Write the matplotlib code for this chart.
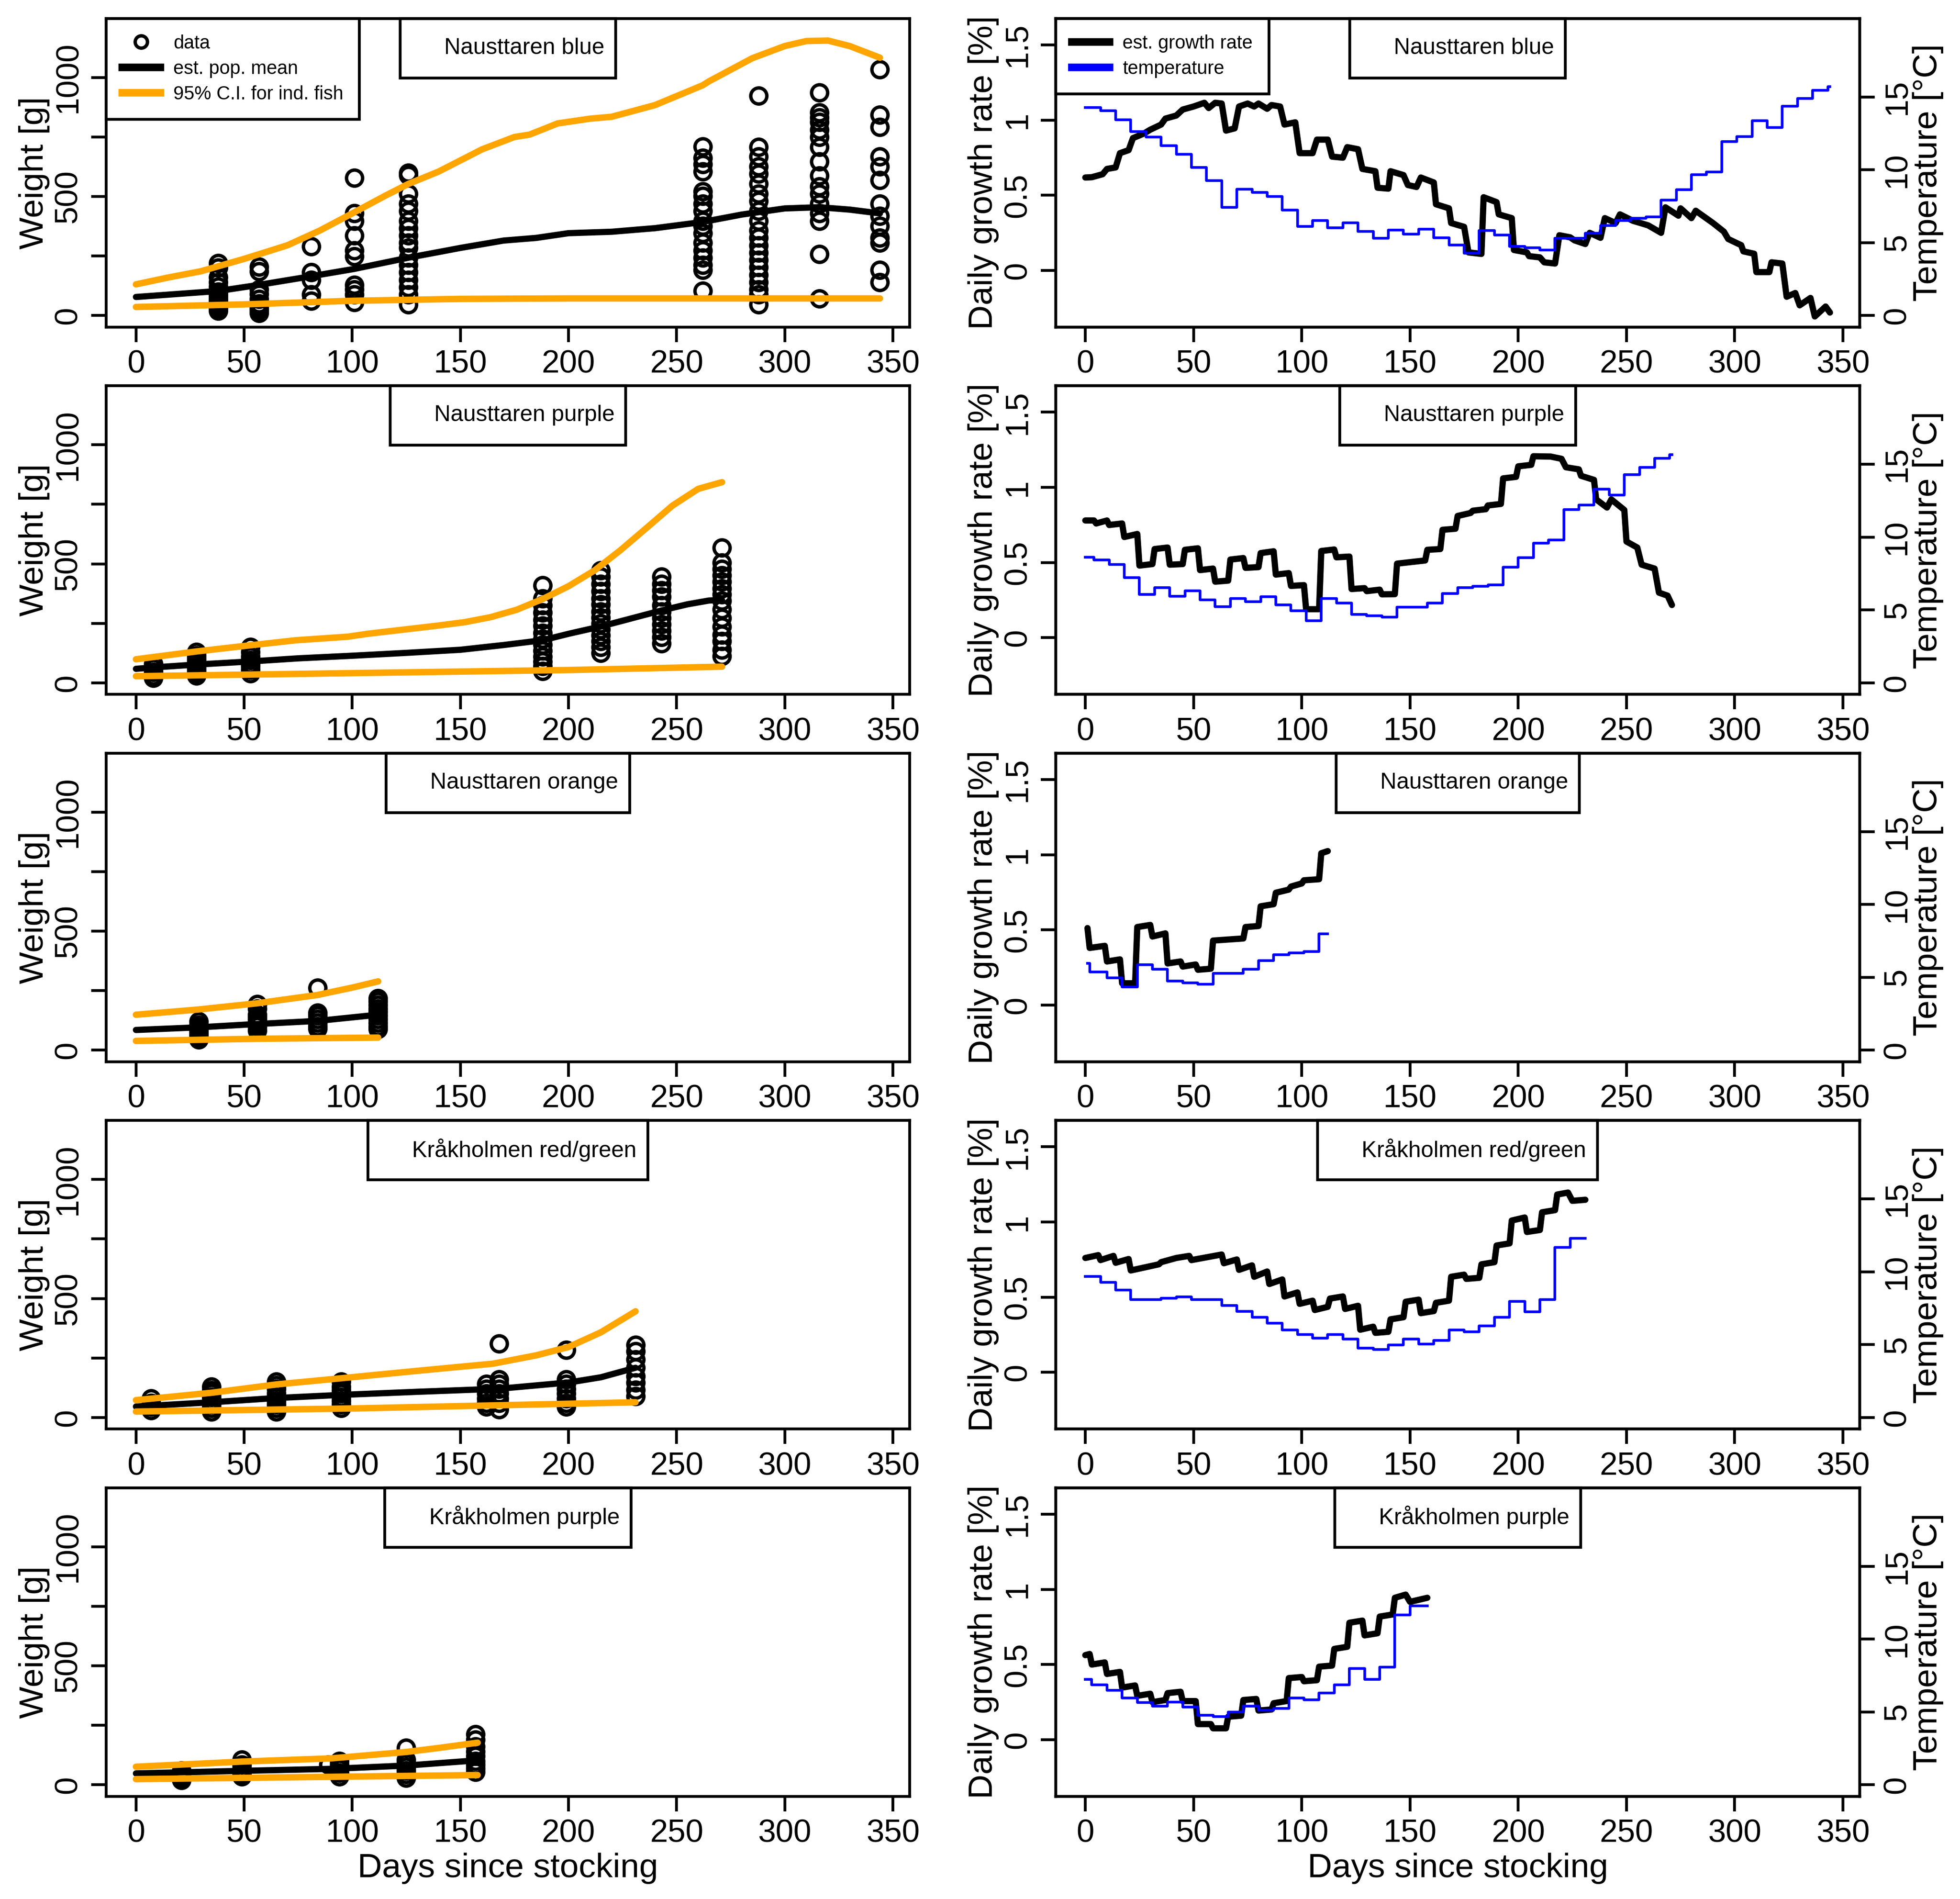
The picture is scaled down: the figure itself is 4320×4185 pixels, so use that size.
import numpy as np
import matplotlib.pyplot as plt
from matplotlib.lines import Line2D
from matplotlib.patches import Rectangle
import matplotlib.transforms as mtransforms

plt.rcParams['font.family'] = ['Liberation Sans', 'DejaVu Sans']

# ---------------- data ----------------
SITES = ['Nausttaren blue', 'Nausttaren purple', 'Nausttaren orange',
         'Kråkholmen red/green', 'Kråkholmen purple']

# weighings: sampling day -> weights [g]
NB_OBS_DAYS = [38, 57, 81, 101, 126, 262, 288, 316, 344]
NB_OBS_W = [[220, 200, 160, 140, 120, 100, 90, 80, 70, 60, 50, 40, 30, 20],
            [205, 185, 110, 90, 70, 50, 40, 30, 20, 10],
            [290, 181, 150, 88, 62],
            [579, 429, 398, 336, 274, 248, 129, 109, 88, 57],
            [600, 590, 512, 470, 440, 398, 367, 336, 305, 284, 243, 212, 181, 150, 119, 88, 47],
            [710, 662, 636, 605, 522, 502, 470, 440, 398, 377, 346, 305, 274, 243, 212, 191, 103],
            [923, 708, 667, 626, 595, 553, 512, 481, 440, 398, 357, 326, 295, 264, 233, 202, 171, 140, 109, 88, 47],
            [936, 853, 832, 812, 781, 750, 708, 646, 587, 543, 512, 470, 429, 398, 259, 72],
            [1034, 843, 791, 667, 626, 569, 470, 419, 377, 326, 305, 191, 140]]

NP_OBS_DAYS = [8, 28, 53, 188, 215, 243, 271]
NP_OBS_W = [[80, 60, 45, 30, 20],
            [130, 115, 100, 90, 80, 70, 60, 50, 40, 30],
            [150, 130, 110, 95, 80, 70, 55, 40],
            [410, 355, 325, 295, 265, 240, 210, 185, 160, 135, 110, 90, 70, 50],
            [473, 445, 415, 385, 355, 330, 300, 275, 250, 225, 200, 175, 150, 126],
            [446, 415, 388, 362, 326, 299, 273, 246, 219, 192, 166],
            [567, 504, 478, 451, 424, 397, 371, 344, 308, 273, 237, 201, 175, 139, 112]]

NO_OBS_DAYS = [29, 56, 84, 112]
NO_OBS_W = [[120, 105, 95, 85, 75, 65, 55, 45],
            [193, 175, 150, 140, 130, 120, 110, 100, 83],
            [261, 158, 145, 130, 115, 100, 90],
            [219, 205, 190, 175, 160, 145, 130, 115, 100, 88]]

KR_OBS_DAYS = [7, 35, 65, 95, 162, 168, 199, 231]
KR_OBS_W = [[80, 60, 45, 30],
            [130, 115, 100, 85, 70, 55, 40, 25],
            [150, 135, 120, 100, 85, 70, 55, 40, 25],
            [150, 130, 115, 100, 85, 70, 55, 40],
            [140, 120, 100, 80, 60, 45],
            [310, 160, 140, 120, 100, 80, 60, 35],
            [283, 160, 140, 120, 100, 80, 60, 45],
            [305, 279, 244, 209, 174, 147, 117, 90]]

KP_OBS_DAYS = [21, 49, 89, 94, 125, 157]
KP_OBS_W = [[60, 45, 35, 25, 20],
            [105, 85, 70, 55, 45, 35],
            [85],
            [100, 85, 75, 65, 50, 35],
            [155, 105, 90, 75, 60, 45, 30],
            [212, 190, 160, 140, 120, 100, 85, 70, 55]]

# estimated population mean and 95% C.I. for individual fish
NB_MEAN_D = [0, 38, 57, 81, 101, 126, 150, 170, 185, 200, 220, 240, 262, 280, 300, 316, 330, 344]
NB_MEAN = [78, 103, 129, 165, 196, 243, 284, 315, 326, 346, 352, 367, 393, 424, 450, 455, 445, 429]
NB_UP_D = [0, 15, 30, 50, 70, 85, 100, 115, 126, 140, 160, 175, 182, 195, 210, 220, 240, 262,
           265, 285, 300, 310, 320, 330, 344]
NB_UP = [131, 160, 186, 238, 295, 357, 429, 502, 553, 605, 698, 750, 760, 807, 827, 835, 884, 967,
         984, 1081, 1132, 1153, 1155, 1132, 1083]
NB_LO_D = [0, 50, 100, 150, 200, 344]
NB_LO = [36, 47, 62, 70, 72, 72]

NP_MEAN_D = [0, 10, 28, 53, 75, 100, 125, 150, 170, 188, 200, 215, 230, 243, 255, 265, 271]
NP_MEAN = [59, 66, 77, 90, 103, 114, 126, 139, 159, 179, 206, 237, 273, 304, 330, 346, 348]
NP_UP_D = [0, 28, 52, 74, 98, 107, 124, 140, 152, 164, 176, 188, 200, 212, 224, 236, 248, 260, 271]
NP_UP = [99, 132, 157, 179, 194, 206, 224, 241, 255, 276, 307, 352, 406, 472, 557, 650, 744, 815, 843]
NP_LO_D = [0, 100, 200, 271]
NP_LO = [28, 41, 54, 68]

NO_MEAN_D = [0, 29, 56, 84, 112]
NO_MEAN = [85, 96, 110, 123, 149]
NO_UP_D = [0, 29, 56, 84, 100, 112]
NO_UP = [149, 171, 197, 232, 263, 289]
NO_LO_D = [0, 56, 112]
NO_LO = [39, 48, 53]

KR_MEAN_D = [0, 35, 65, 95, 130, 168, 200, 215, 231]
KR_MEAN = [46, 64, 82, 95, 108, 121, 147, 169, 209]
KR_UP_D = [0, 35, 65, 95, 130, 165, 185, 200, 215, 231]
KR_UP = [73, 104, 139, 165, 196, 226, 261, 296, 358, 446]
KR_LO_D = [0, 100, 231]
KR_LO = [25, 38, 64]

KP_MEAN_D = [0, 50, 90, 125, 158]
KP_MEAN = [48, 59, 67, 81, 103]
KP_UP_D = [0, 50, 90, 125, 140, 158]
KP_UP = [76, 98, 111, 138, 155, 177]
KP_LO_D = [0, 158]
KP_LO = [24, 41]

# estimated daily growth rate [%] as (day, rate)
NB_GROWTH = [(0, 0.618), (3, 0.62), (8, 0.64), (10, 0.675), (14, 0.685), (16, 0.78), (20, 0.80),
             (22, 0.88), (27, 0.91), (30, 0.936), (35, 0.97), (37, 1.01), (42, 1.03), (45, 1.07),
             (50, 1.09), (55, 1.115), (57, 1.08), (60, 1.115), (63, 1.11), (65, 0.93), (69, 0.945),
             (71, 1.09), (75, 1.11), (78, 1.09), (80, 1.11), (84, 1.075), (86, 1.10), (90, 1.09),
             (92, 0.97), (97, 0.985), (99, 0.78), (105, 0.78), (107, 0.87), (112, 0.87), (114, 0.757),
             (119, 0.75), (121, 0.82), (126, 0.806), (128, 0.675), (134, 0.66), (135, 0.55),
             (140, 0.544), (141, 0.66), (147, 0.634), (149, 0.568), (153, 0.555), (155, 0.618),
             (161, 0.585), (162, 0.44), (168, 0.413), (169, 0.315), (175, 0.29), (177, 0.12),
             (183, 0.11), (184, 0.487), (190, 0.454), (191, 0.373), (197, 0.348), (198, 0.136),
             (204, 0.12), (205, 0.095), (210, 0.087), (212, 0.054), (217, 0.046), (219, 0.234),
             (224, 0.22), (226, 0.20), (231, 0.176), (233, 0.25), (238, 0.217), (240, 0.348),
             (245, 0.315), (247, 0.373), (253, 0.33), (260, 0.30), (266, 0.25), (268, 0.42),
             (274, 0.364), (275, 0.413), (280, 0.348), (282, 0.397), (290, 0.315), (295, 0.258),
             (297, 0.209), (303, 0.168), (304, 0.127), (309, 0.111), (310, -0.011), (316, -0.011),
             (317, 0.054), (322, 0.046), (324, -0.175), (328, -0.15), (330, -0.232), (335, -0.183),
             (337, -0.306), (342, -0.24), (344, -0.28)]

NP_GROWTH = [(0, 0.78), (4, 0.78), (5, 0.76), (10, 0.78), (11, 0.75), (17, 0.76), (18, 0.67),
             (24, 0.69), (25, 0.48), (31, 0.49), (32, 0.59), (38, 0.60), (39, 0.486), (45, 0.49),
             (46, 0.585), (52, 0.595), (53, 0.45), (59, 0.46), (60, 0.373), (66, 0.38), (67, 0.52),
             (73, 0.53), (74, 0.465), (80, 0.47), (81, 0.563), (87, 0.575), (88, 0.42), (94, 0.43),
             (95, 0.345), (101, 0.35), (102, 0.19), (108, 0.19), (109, 0.577), (115, 0.587),
             (116, 0.535), (122, 0.54), (123, 0.324), (129, 0.33), (130, 0.31), (136, 0.32),
             (137, 0.289), (143, 0.29), (144, 0.493), (157, 0.514), (158, 0.585), (164, 0.59),
             (165, 0.718), (171, 0.725), (172, 0.81), (178, 0.83), (179, 0.845), (185, 0.855),
             (186, 0.88), (192, 0.89), (193, 1.06), (199, 1.07), (200, 1.14), (206, 1.15),
             (207, 1.207), (215, 1.205), (220, 1.19), (222, 1.134), (228, 1.12), (229, 1.077),
             (235, 1.05), (236, 0.92), (241, 0.866), (243, 0.92), (249, 0.85), (250, 0.64),
             (255, 0.60), (257, 0.486), (263, 0.46), (265, 0.30), (269, 0.28), (271, 0.218)]

NO_GROWTH = [(1, 0.512), (2, 0.38), (9, 0.394), (10, 0.29), (16, 0.304), (17, 0.145), (23, 0.145),
             (24, 0.519), (30, 0.533), (31, 0.456), (37, 0.477), (38, 0.277), (44, 0.29), (45, 0.256),
             (51, 0.27), (52, 0.235), (58, 0.242), (59, 0.429), (73, 0.443), (74, 0.519), (80, 0.526),
             (81, 0.657), (87, 0.671), (88, 0.747), (94, 0.768), (95, 0.788), (100, 0.809),
             (101, 0.83), (108, 0.837), (109, 1.01), (112, 1.024)]

KR_GROWTH = [(0, 0.761), (6, 0.78), (7, 0.747), (13, 0.775), (14, 0.729), (20, 0.754), (21, 0.678),
             (34, 0.719), (35, 0.733), (42, 0.761), (48, 0.775), (49, 0.747), (63, 0.784),
             (64, 0.726), (70, 0.751), (71, 0.682), (77, 0.712), (78, 0.636), (84, 0.671),
             (85, 0.588), (91, 0.618), (92, 0.505), (98, 0.532), (99, 0.456), (105, 0.477),
             (106, 0.415), (112, 0.436), (113, 0.491), (119, 0.505), (120, 0.422), (126, 0.443),
             (127, 0.284), (133, 0.304), (134, 0.263), (140, 0.27), (141, 0.353), (147, 0.367),
             (148, 0.47), (154, 0.484), (155, 0.394), (161, 0.408), (162, 0.463), (168, 0.477),
             (169, 0.636), (175, 0.65), (176, 0.622), (182, 0.629), (183, 0.719), (189, 0.733),
             (190, 0.844), (196, 0.858), (197, 1.01), (203, 1.03), (204, 0.934), (210, 0.947),
             (211, 1.065), (217, 1.079), (218, 1.183), (223, 1.196), (225, 1.141), (231, 1.148)]

KP_GROWTH = [(0, 0.5625), (2, 0.57), (3, 0.50), (9, 0.514), (10, 0.4375), (16, 0.451), (17, 0.347),
             (23, 0.361), (24, 0.292), (30, 0.306), (31, 0.25), (37, 0.264), (38, 0.31), (44, 0.319),
             (45, 0.257), (51, 0.257), (52, 0.104), (58, 0.104), (59, 0.076), (65, 0.076),
             (66, 0.153), (72, 0.16), (73, 0.264), (79, 0.271), (80, 0.194), (86, 0.201),
             (87, 0.243), (93, 0.257), (94, 0.41), (100, 0.417), (101, 0.389), (107, 0.396),
             (108, 0.486), (114, 0.493), (115, 0.604), (121, 0.618), (122, 0.778), (128, 0.792),
             (129, 0.694), (135, 0.708), (136, 0.819), (142, 0.833), (143, 0.944), (148, 0.965),
             (150, 0.917), (158, 0.944)]

# weekly sea temperature [deg C]: step start day, value (last entry closes the series)
NB_TEMP_D = [0, 7, 14, 21, 28, 35, 42, 49, 56, 63, 70, 77, 84, 91, 98, 105, 112, 119, 126, 133,
             140, 147, 154, 161, 168, 175, 182, 189, 196, 203, 210, 217, 224, 231, 238, 245, 252,
             259, 266, 273, 280, 287, 294, 301, 308, 315, 322, 329, 336, 343, 344]
NB_TEMP = [14.26, 14.06, 13.43, 12.63, 12.24, 11.67, 11.06, 10.15, 9.26, 7.41, 8.67, 8.45, 8.16,
           7.24, 6.11, 6.53, 6.01, 6.35, 5.76, 5.30, 5.86, 5.59, 5.93, 5.34, 4.85, 4.29, 5.84, 5.52,
           4.75, 4.66, 4.49, 5.30, 5.30, 5.64, 6.18, 6.51, 6.68, 6.78, 7.91, 8.64, 9.65, 9.85, 11.95,
           12.29, 13.38, 12.91, 14.36, 14.90, 15.45, 15.71, 15.71]

NP_TEMP_D = [0, 4, 11, 18, 25, 32, 39, 46, 53, 60, 67, 74, 81, 88, 95, 102, 109, 116, 123, 130,
             137, 144, 151, 158, 165, 172, 179, 186, 193, 200, 207, 214, 221, 228, 235, 242, 249,
             256, 263, 270, 271]
NP_TEMP = [8.63, 8.44, 8.11, 7.22, 6.06, 6.52, 5.95, 6.32, 5.70, 5.22, 5.80, 5.56, 5.92, 5.34, 4.94,
           4.26, 5.80, 5.48, 4.69, 4.59, 4.50, 5.19, 5.19, 5.48, 6.13, 6.52, 6.64, 6.71, 7.94, 8.59,
           9.60, 9.81, 11.90, 12.19, 13.30, 12.87, 14.29, 14.79, 15.41, 15.66, 15.66]

NO_TEMP_D = [1, 2, 10, 17, 24, 31, 38, 45, 52, 59, 66, 73, 80, 87, 94, 101, 108, 112]
NO_TEMP = [5.95, 5.38, 4.95, 4.34, 5.85, 5.56, 4.74, 4.62, 4.52, 5.26, 5.26, 5.56, 6.16, 6.56,
           6.66, 6.76, 7.97, 7.97]

KR_TEMP_D = [0, 7, 14, 21, 28, 35, 42, 49, 56, 63, 70, 77, 84, 91, 98, 105, 112, 119, 126, 133,
             140, 147, 154, 161, 168, 175, 182, 189, 196, 203, 210, 217, 224, 231]
KR_TEMP = [9.69, 9.26, 8.76, 8.08, 8.08, 8.18, 8.29, 8.08, 8.08, 7.70, 7.27, 6.87, 6.47, 5.99, 5.69,
           5.45, 5.69, 5.38, 4.77, 4.67, 4.98, 5.38, 5.05, 5.28, 6.02, 5.87, 6.27, 6.87, 7.98, 7.25,
           8.08, 11.68, 12.28, 12.28]

KP_TEMP_D = [0, 3, 10, 17, 24, 31, 38, 45, 52, 59, 66, 73, 80, 87, 94, 101, 108, 115, 122, 129,
             136, 143, 150, 158]
KP_TEMP = [7.25, 6.87, 6.49, 5.97, 5.66, 5.41, 5.69, 5.35, 4.78, 4.67, 4.98, 5.41, 5.12, 5.23,
           5.97, 5.83, 6.30, 6.87, 7.98, 7.25, 8.08, 11.66, 12.28, 12.28]

PANELS = [
    (NB_OBS_DAYS, NB_OBS_W, NB_MEAN_D, NB_MEAN, NB_UP_D, NB_UP, NB_LO_D, NB_LO, NB_GROWTH, NB_TEMP_D, NB_TEMP),
    (NP_OBS_DAYS, NP_OBS_W, NP_MEAN_D, NP_MEAN, NP_UP_D, NP_UP, NP_LO_D, NP_LO, NP_GROWTH, NP_TEMP_D, NP_TEMP),
    (NO_OBS_DAYS, NO_OBS_W, NO_MEAN_D, NO_MEAN, NO_UP_D, NO_UP, NO_LO_D, NO_LO, NO_GROWTH, NO_TEMP_D, NO_TEMP),
    (KR_OBS_DAYS, KR_OBS_W, KR_MEAN_D, KR_MEAN, KR_UP_D, KR_UP, KR_LO_D, KR_LO, KR_GROWTH, KR_TEMP_D, KR_TEMP),
    (KP_OBS_DAYS, KP_OBS_W, KP_MEAN_D, KP_MEAN, KP_UP_D, KP_UP, KP_LO_D, KP_LO, KP_GROWTH, KP_TEMP_D, KP_TEMP),
]

X_TICKS = [0, 50, 100, 150, 200, 250, 300, 350]
W_TICKS = [0, 250, 500, 750, 1000]
W_TICKLABELS = ['0', '', '500', '', '1000']
G_TICKS = [0, 0.5, 1, 1.5]
G_TICKLABELS = ['0', '0.5', '1', '1.5']
T_TICKS = [0, 5, 10, 15]
T_TICKLABELS = ['0', '5', '10', '15']

ORANGE = '#FFA500'
BLUE = '#0000FF'
LW_BOX = 1.5
FS_TICK = 17
FS_LAB = 18

# ---------------- figure ----------------
W_PX, H_PX, DPI = 4320, 4185, 300
fig = plt.figure(figsize=(W_PX / DPI, H_PX / DPI), dpi=DPI)
renderer = fig.canvas.get_renderer()


def style_axes(ax):
    for s in ax.spines.values():
        s.set_linewidth(LW_BOX)
    ax.tick_params(direction='out', length=8, width=LW_BOX, labelsize=FS_TICK, pad=4)
    ax.set_xlim(-13.76, 357.76)
    ax.set_xticks(X_TICKS)


def title_box(ax, txt):
    # R-style single entry legend at the top: text sits to the right of an empty symbol slot
    off = mtransforms.offset_copy(ax.transAxes, fig=fig, x=36, y=0, units='dots')
    t = ax.text(0.5, 0.904, txt, transform=off, ha='center', va='center', fontsize=12, zorder=10)
    tw = t.get_window_extent(renderer).width
    bw = (tw + 122) / ax.get_window_extent(renderer).width
    bh = 131 / ax.get_window_extent(renderer).height
    ax.add_patch(Rectangle((0.5 - bw / 2, 1 - bh), bw, bh, transform=ax.transAxes,
                           fill=False, lw=LW_BOX, ec='black', zorder=9, clip_on=False))


LEG_KW = dict(loc='upper left', borderaxespad=0, frameon=True, fancybox=False, framealpha=1,
              edgecolor='black', fontsize=10, borderpad=0.85, labelspacing=0.38,
              handlelength=2.0, handletextpad=0.7)

for i, (obs_d, obs_w, md, mv, ud, uv, ld, lv, growth, td, tv) in enumerate(PANELS):
    top_px = 40.6 + 809.5 * i
    bottom = 1 - (top_px + 680) / H_PX
    h = 680 / H_PX

    # ---- weight panel ----
    ax = fig.add_axes([234 / W_PX, bottom, 1771 / W_PX, h])
    style_axes(ax)
    xs = np.concatenate([[d] * len(w) for d, w in zip(obs_d, obs_w)])
    ys = np.concatenate([w for w in obs_w])
    ax.plot(xs, ys, ls='none', marker='o', ms=8.5, mfc='none', mec='black', mew=1.8, zorder=3)
    ax.plot(md, mv, color='black', lw=3.3, solid_capstyle='round', zorder=4)
    ax.plot(ud, uv, color=ORANGE, lw=3.4, solid_capstyle='round', zorder=4)
    ax.plot(ld, lv, color=ORANGE, lw=3.4, solid_capstyle='round', zorder=4)
    ax.set_ylim(-48, 1248)
    ax.set_yticks(W_TICKS, labels=W_TICKLABELS, rotation=90, va='center')
    ax.set_ylabel('Weight [g]', fontsize=FS_LAB, labelpad=2)
    title_box(ax, SITES[i])
    if i == 0:
        handles = [Line2D([], [], ls='none', marker='o', ms=6.5, mfc='none', mec='black', mew=1.8),
                   Line2D([], [], color='black', lw=4),
                   Line2D([], [], color=ORANGE, lw=4)]
        leg = ax.legend(handles, ['data', 'est. pop. mean', '95% C.I. for ind. fish'], **LEG_KW)
        leg.get_frame().set_linewidth(LW_BOX)
        leg.set_zorder(12)
    if i == len(PANELS) - 1:
        ax.set_xlabel('Days since stocking', fontsize=FS_LAB, labelpad=2)

    # ---- growth / temperature panel ----
    axg = fig.add_axes([2326.5 / W_PX, bottom, 1772.5 / W_PX, h])
    style_axes(axg)
    gd, gv = np.array(growth).T
    axg.plot(gd, gv, color='black', lw=3.3, solid_joinstyle='round', solid_capstyle='round', zorder=4)
    axg.set_ylim(-0.376, 1.676)
    axg.set_yticks(G_TICKS, labels=G_TICKLABELS, rotation=90, va='center')
    axg.set_ylabel('Daily growth rate [%]', fontsize=FS_LAB, labelpad=2)

    axt = axg.twinx()
    style_axes(axt)
    axt.plot(td, tv, color=BLUE, lw=1.4, drawstyle='steps-post', zorder=3)
    axt.set_ylim(-0.784, 20.384)
    axt.set_yticks(T_TICKS, labels=T_TICKLABELS, rotation=90, va='center')
    axt.set_ylabel('Temperature [°C]', fontsize=FS_LAB, labelpad=0)
    title_box(axt, SITES[i])
    if i == 0:
        handles = [Line2D([], [], color='black', lw=4), Line2D([], [], color=BLUE, lw=4)]
        leg = axt.legend(handles, ['est. growth rate', 'temperature'], **LEG_KW)
        leg.get_frame().set_linewidth(LW_BOX)
        leg.set_zorder(12)
    if i == len(PANELS) - 1:
        axg.set_xlabel('Days since stocking', fontsize=FS_LAB, labelpad=2)

fig.savefig('out.png', dpi=DPI)
